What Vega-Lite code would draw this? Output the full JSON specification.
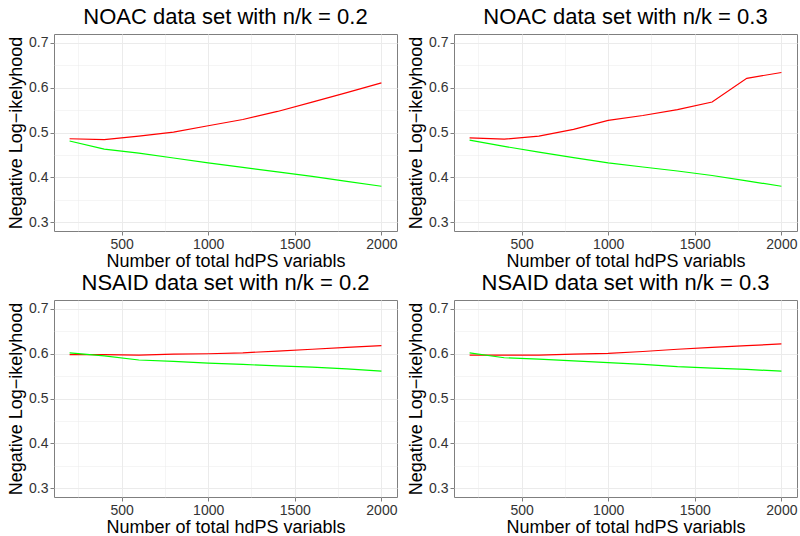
{
  "$schema": "https://vega.github.io/schema/vega-lite/v6.json",
  "padding": {"left": 7, "top": 5, "right": 0, "bottom": 0},
  "bounds": "flush",
  "columns": 2,
  "spacing": {"row": 69, "column": 57},
  "datasets": {
    "nll": [
      {"panel": "NOAC 0.2", "method": "Method 1", "vars": 200, "nll": 0.486},
      {"panel": "NOAC 0.2", "method": "Method 1", "vars": 400, "nll": 0.484},
      {"panel": "NOAC 0.2", "method": "Method 1", "vars": 600, "nll": 0.492},
      {"panel": "NOAC 0.2", "method": "Method 1", "vars": 800, "nll": 0.501},
      {"panel": "NOAC 0.2", "method": "Method 1", "vars": 1000, "nll": 0.515},
      {"panel": "NOAC 0.2", "method": "Method 1", "vars": 1200, "nll": 0.529},
      {"panel": "NOAC 0.2", "method": "Method 1", "vars": 1400, "nll": 0.547},
      {"panel": "NOAC 0.2", "method": "Method 1", "vars": 1600, "nll": 0.568},
      {"panel": "NOAC 0.2", "method": "Method 1", "vars": 1800, "nll": 0.589},
      {"panel": "NOAC 0.2", "method": "Method 1", "vars": 2000, "nll": 0.611},
      {"panel": "NOAC 0.2", "method": "Method 2", "vars": 200, "nll": 0.481},
      {"panel": "NOAC 0.2", "method": "Method 2", "vars": 400, "nll": 0.463},
      {"panel": "NOAC 0.2", "method": "Method 2", "vars": 600, "nll": 0.454},
      {"panel": "NOAC 0.2", "method": "Method 2", "vars": 800, "nll": 0.443},
      {"panel": "NOAC 0.2", "method": "Method 2", "vars": 1000, "nll": 0.432},
      {"panel": "NOAC 0.2", "method": "Method 2", "vars": 1200, "nll": 0.422},
      {"panel": "NOAC 0.2", "method": "Method 2", "vars": 1400, "nll": 0.412},
      {"panel": "NOAC 0.2", "method": "Method 2", "vars": 1600, "nll": 0.402},
      {"panel": "NOAC 0.2", "method": "Method 2", "vars": 1800, "nll": 0.391},
      {"panel": "NOAC 0.2", "method": "Method 2", "vars": 2000, "nll": 0.380},
      {"panel": "NOAC 0.3", "method": "Method 1", "vars": 200, "nll": 0.488},
      {"panel": "NOAC 0.3", "method": "Method 1", "vars": 400, "nll": 0.485},
      {"panel": "NOAC 0.3", "method": "Method 1", "vars": 600, "nll": 0.492},
      {"panel": "NOAC 0.3", "method": "Method 1", "vars": 800, "nll": 0.507},
      {"panel": "NOAC 0.3", "method": "Method 1", "vars": 1000, "nll": 0.527},
      {"panel": "NOAC 0.3", "method": "Method 1", "vars": 1200, "nll": 0.538},
      {"panel": "NOAC 0.3", "method": "Method 1", "vars": 1400, "nll": 0.551},
      {"panel": "NOAC 0.3", "method": "Method 1", "vars": 1600, "nll": 0.568},
      {"panel": "NOAC 0.3", "method": "Method 1", "vars": 1800, "nll": 0.621},
      {"panel": "NOAC 0.3", "method": "Method 1", "vars": 2000, "nll": 0.634},
      {"panel": "NOAC 0.3", "method": "Method 2", "vars": 200, "nll": 0.483},
      {"panel": "NOAC 0.3", "method": "Method 2", "vars": 400, "nll": 0.469},
      {"panel": "NOAC 0.3", "method": "Method 2", "vars": 600, "nll": 0.456},
      {"panel": "NOAC 0.3", "method": "Method 2", "vars": 800, "nll": 0.444},
      {"panel": "NOAC 0.3", "method": "Method 2", "vars": 1000, "nll": 0.432},
      {"panel": "NOAC 0.3", "method": "Method 2", "vars": 1200, "nll": 0.423},
      {"panel": "NOAC 0.3", "method": "Method 2", "vars": 1400, "nll": 0.414},
      {"panel": "NOAC 0.3", "method": "Method 2", "vars": 1600, "nll": 0.404},
      {"panel": "NOAC 0.3", "method": "Method 2", "vars": 1800, "nll": 0.392},
      {"panel": "NOAC 0.3", "method": "Method 2", "vars": 2000, "nll": 0.380},
      {"panel": "NSAID 0.2", "method": "Method 1", "vars": 200, "nll": 0.598},
      {"panel": "NSAID 0.2", "method": "Method 1", "vars": 400, "nll": 0.598},
      {"panel": "NSAID 0.2", "method": "Method 1", "vars": 600, "nll": 0.597},
      {"panel": "NSAID 0.2", "method": "Method 1", "vars": 800, "nll": 0.599},
      {"panel": "NSAID 0.2", "method": "Method 1", "vars": 1000, "nll": 0.600},
      {"panel": "NSAID 0.2", "method": "Method 1", "vars": 1200, "nll": 0.602},
      {"panel": "NSAID 0.2", "method": "Method 1", "vars": 1400, "nll": 0.606},
      {"panel": "NSAID 0.2", "method": "Method 1", "vars": 1600, "nll": 0.610},
      {"panel": "NSAID 0.2", "method": "Method 1", "vars": 1800, "nll": 0.614},
      {"panel": "NSAID 0.2", "method": "Method 1", "vars": 2000, "nll": 0.618},
      {"panel": "NSAID 0.2", "method": "Method 2", "vars": 200, "nll": 0.602},
      {"panel": "NSAID 0.2", "method": "Method 2", "vars": 400, "nll": 0.595},
      {"panel": "NSAID 0.2", "method": "Method 2", "vars": 600, "nll": 0.586},
      {"panel": "NSAID 0.2", "method": "Method 2", "vars": 800, "nll": 0.583},
      {"panel": "NSAID 0.2", "method": "Method 2", "vars": 1000, "nll": 0.579},
      {"panel": "NSAID 0.2", "method": "Method 2", "vars": 1200, "nll": 0.576},
      {"panel": "NSAID 0.2", "method": "Method 2", "vars": 1400, "nll": 0.573},
      {"panel": "NSAID 0.2", "method": "Method 2", "vars": 1600, "nll": 0.570},
      {"panel": "NSAID 0.2", "method": "Method 2", "vars": 1800, "nll": 0.566},
      {"panel": "NSAID 0.2", "method": "Method 2", "vars": 2000, "nll": 0.561},
      {"panel": "NSAID 0.3", "method": "Method 1", "vars": 200, "nll": 0.597},
      {"panel": "NSAID 0.3", "method": "Method 1", "vars": 400, "nll": 0.597},
      {"panel": "NSAID 0.3", "method": "Method 1", "vars": 600, "nll": 0.597},
      {"panel": "NSAID 0.3", "method": "Method 1", "vars": 800, "nll": 0.599},
      {"panel": "NSAID 0.3", "method": "Method 1", "vars": 1000, "nll": 0.601},
      {"panel": "NSAID 0.3", "method": "Method 1", "vars": 1200, "nll": 0.605},
      {"panel": "NSAID 0.3", "method": "Method 1", "vars": 1400, "nll": 0.610},
      {"panel": "NSAID 0.3", "method": "Method 1", "vars": 1600, "nll": 0.614},
      {"panel": "NSAID 0.3", "method": "Method 1", "vars": 1800, "nll": 0.618},
      {"panel": "NSAID 0.3", "method": "Method 1", "vars": 2000, "nll": 0.622},
      {"panel": "NSAID 0.3", "method": "Method 2", "vars": 200, "nll": 0.602},
      {"panel": "NSAID 0.3", "method": "Method 2", "vars": 400, "nll": 0.591},
      {"panel": "NSAID 0.3", "method": "Method 2", "vars": 600, "nll": 0.588},
      {"panel": "NSAID 0.3", "method": "Method 2", "vars": 800, "nll": 0.584},
      {"panel": "NSAID 0.3", "method": "Method 2", "vars": 1000, "nll": 0.580},
      {"panel": "NSAID 0.3", "method": "Method 2", "vars": 1200, "nll": 0.576},
      {"panel": "NSAID 0.3", "method": "Method 2", "vars": 1400, "nll": 0.571},
      {"panel": "NSAID 0.3", "method": "Method 2", "vars": 1600, "nll": 0.568},
      {"panel": "NSAID 0.3", "method": "Method 2", "vars": 1800, "nll": 0.565},
      {"panel": "NSAID 0.3", "method": "Method 2", "vars": 2000, "nll": 0.561}
    ]
  },
  "data": {"name": "nll"},
  "concat": [
    {
      "title": "NOAC data set with n/k = 0.2",
      "width": 343, "height": 197,
      "transform": [{"filter": "datum.panel === 'NOAC 0.2'"}],
      "mark": {"type": "line", "strokeWidth": 1.2},
      "encoding": {
        "x": {"field": "vars", "type": "quantitative", "scale": {"domain": [110, 2090], "nice": false, "zero": false}, "axis": {"values": [250, 500, 750, 1000, 1250, 1500, 1750, 2000], "format": "d", "labelExpr": "datum.value % 500 === 0 ? datum.label : ''", "tickOpacity": {"condition": {"test": "datum.value % 500 === 0", "value": 1}, "value": 0}, "gridWidth": {"condition": {"test": "datum.value % 500 === 0", "value": 1}, "value": 0.5}, "title": "Number of total hdPS variabls"}},
        "y": {"field": "nll", "type": "quantitative", "scale": {"domain": [0.28, 0.72], "nice": false, "zero": false}, "axis": {"values": [0.3, 0.35, 0.4, 0.45, 0.5, 0.55, 0.6, 0.65, 0.7], "format": ".1f", "labelExpr": "round(datum.value * 100) % 10 === 0 ? datum.label : ''", "tickOpacity": {"condition": {"test": "round(datum.value * 100) % 10 === 0", "value": 1}, "value": 0}, "gridWidth": {"condition": {"test": "round(datum.value * 100) % 10 === 0", "value": 1}, "value": 0.5}, "title": "Negative Log−ikelyhood"}},
        "color": {"field": "method", "type": "nominal", "scale": {"domain": ["Method 1", "Method 2"], "range": ["#FF0000", "#00FF00"]}, "legend": null}
      }
    },
    {
      "title": "NOAC data set with n/k = 0.3",
      "width": 343, "height": 197,
      "transform": [{"filter": "datum.panel === 'NOAC 0.3'"}],
      "mark": {"type": "line", "strokeWidth": 1.2},
      "encoding": {
        "x": {"field": "vars", "type": "quantitative", "scale": {"domain": [110, 2090], "nice": false, "zero": false}, "axis": {"values": [250, 500, 750, 1000, 1250, 1500, 1750, 2000], "format": "d", "labelExpr": "datum.value % 500 === 0 ? datum.label : ''", "tickOpacity": {"condition": {"test": "datum.value % 500 === 0", "value": 1}, "value": 0}, "gridWidth": {"condition": {"test": "datum.value % 500 === 0", "value": 1}, "value": 0.5}, "title": "Number of total hdPS variabls"}},
        "y": {"field": "nll", "type": "quantitative", "scale": {"domain": [0.28, 0.72], "nice": false, "zero": false}, "axis": {"values": [0.3, 0.35, 0.4, 0.45, 0.5, 0.55, 0.6, 0.65, 0.7], "format": ".1f", "labelExpr": "round(datum.value * 100) % 10 === 0 ? datum.label : ''", "tickOpacity": {"condition": {"test": "round(datum.value * 100) % 10 === 0", "value": 1}, "value": 0}, "gridWidth": {"condition": {"test": "round(datum.value * 100) % 10 === 0", "value": 1}, "value": 0.5}, "title": "Negative Log−ikelyhood"}},
        "color": {"field": "method", "type": "nominal", "scale": {"domain": ["Method 1", "Method 2"], "range": ["#FF0000", "#00FF00"]}, "legend": null}
      }
    },
    {
      "title": "NSAID data set with n/k = 0.2",
      "width": 343, "height": 197,
      "transform": [{"filter": "datum.panel === 'NSAID 0.2'"}],
      "mark": {"type": "line", "strokeWidth": 1.2},
      "encoding": {
        "x": {"field": "vars", "type": "quantitative", "scale": {"domain": [110, 2090], "nice": false, "zero": false}, "axis": {"values": [250, 500, 750, 1000, 1250, 1500, 1750, 2000], "format": "d", "labelExpr": "datum.value % 500 === 0 ? datum.label : ''", "tickOpacity": {"condition": {"test": "datum.value % 500 === 0", "value": 1}, "value": 0}, "gridWidth": {"condition": {"test": "datum.value % 500 === 0", "value": 1}, "value": 0.5}, "title": "Number of total hdPS variabls"}},
        "y": {"field": "nll", "type": "quantitative", "scale": {"domain": [0.28, 0.72], "nice": false, "zero": false}, "axis": {"values": [0.3, 0.35, 0.4, 0.45, 0.5, 0.55, 0.6, 0.65, 0.7], "format": ".1f", "labelExpr": "round(datum.value * 100) % 10 === 0 ? datum.label : ''", "tickOpacity": {"condition": {"test": "round(datum.value * 100) % 10 === 0", "value": 1}, "value": 0}, "gridWidth": {"condition": {"test": "round(datum.value * 100) % 10 === 0", "value": 1}, "value": 0.5}, "title": "Negative Log−ikelyhood"}},
        "color": {"field": "method", "type": "nominal", "scale": {"domain": ["Method 1", "Method 2"], "range": ["#FF0000", "#00FF00"]}, "legend": null}
      }
    },
    {
      "title": "NSAID data set with n/k = 0.3",
      "width": 343, "height": 197,
      "transform": [{"filter": "datum.panel === 'NSAID 0.3'"}],
      "mark": {"type": "line", "strokeWidth": 1.2},
      "encoding": {
        "x": {"field": "vars", "type": "quantitative", "scale": {"domain": [110, 2090], "nice": false, "zero": false}, "axis": {"values": [250, 500, 750, 1000, 1250, 1500, 1750, 2000], "format": "d", "labelExpr": "datum.value % 500 === 0 ? datum.label : ''", "tickOpacity": {"condition": {"test": "datum.value % 500 === 0", "value": 1}, "value": 0}, "gridWidth": {"condition": {"test": "datum.value % 500 === 0", "value": 1}, "value": 0.5}, "title": "Number of total hdPS variabls"}},
        "y": {"field": "nll", "type": "quantitative", "scale": {"domain": [0.28, 0.72], "nice": false, "zero": false}, "axis": {"values": [0.3, 0.35, 0.4, 0.45, 0.5, 0.55, 0.6, 0.65, 0.7], "format": ".1f", "labelExpr": "round(datum.value * 100) % 10 === 0 ? datum.label : ''", "tickOpacity": {"condition": {"test": "round(datum.value * 100) % 10 === 0", "value": 1}, "value": 0}, "gridWidth": {"condition": {"test": "round(datum.value * 100) % 10 === 0", "value": 1}, "value": 0.5}, "title": "Negative Log−ikelyhood"}},
        "color": {"field": "method", "type": "nominal", "scale": {"domain": ["Method 1", "Method 2"], "range": ["#FF0000", "#00FF00"]}, "legend": null}
      }
    }
  ],
  "config": {
    "font": "Liberation Sans",
    "view": {"stroke": "#7f7f7f", "strokeWidth": 1},
    "axis": {"domain": false, "grid": true, "gridColor": "#EBEBEB", "tickColor": "#7f7f7f", "tickSize": 4, "labelColor": "#333333", "labelFontSize": 14, "labelPadding": 2, "titleFontSize": 18, "titleFontWeight": "normal", "titleColor": "#000000", "titlePadding": 3},
    "axisX": {"titlePadding": 1},
    "title": {"fontSize": 22, "fontWeight": "normal", "color": "#000000", "offset": 5}
  }
}
